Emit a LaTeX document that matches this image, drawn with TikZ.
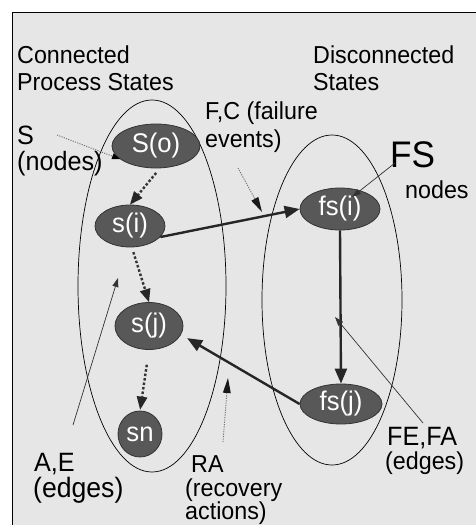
\documentclass[tikz,border=0pt]{standalone}
\usepackage{fontspec}
\setmainfont{Liberation Sans}[FakeStretch=0.95]
\usetikzlibrary{shapes.geometric,arrows.meta}
\definecolor{panel}{HTML}{E6E6E6}
\definecolor{statefill}{HTML}{585858}
\definecolor{stateline}{HTML}{333333}
\tikzset{
  lbl/.style={anchor=base west,inner sep=0pt,font=\fontsize{24.5}{28}\selectfont},
  lblbig/.style={lbl,font=\fontsize{26.5}{30}\selectfont},
  lblhuge/.style={lbl,font=\fontsize{28}{32}\selectfont},
  bigl/.style={anchor=base west,inner sep=0pt,font=\fontsize{37}{42}\selectfont},
  state/.style={ellipse,draw=stateline,line width=0.8pt,fill=statefill,text=white,inner sep=0pt,font=\fontsize{27}{30}\selectfont},
  group/.style={ellipse,draw=black,line width=0.7pt,inner sep=0pt},
  dotarrow/.style={draw=stateline,line width=2.4pt,dash pattern=on 2.5pt off 2pt,-{Triangle[length=13pt,width=11pt,color=black!85,fill=black!85,line width=0pt]}},
  thickarrow/.style={draw=black!85,line width=2.4pt,-{Triangle[length=15pt,width=12pt]}},
  thinarrow/.style={draw=black!80,line width=0.7pt,-{Triangle[length=9pt,width=6pt]}},
  hintarrow/.style={draw=black!55,line width=0.9pt,dash pattern=on 1.2pt off 1.2pt,-{Triangle[length=15pt,width=8pt,color=black!90,fill=black!90,line width=0pt]}},
}
\begin{document}
\begin{tikzpicture}[x=1pt,y=-1pt]
\useasboundingbox (0,0) rectangle (476,525);
% panel
\fill[panel] (12,12) rectangle (476,525);
\draw[line width=1pt] (12,525) -- (12,12) -- (476,12);

% state groups
\node[group,minimum width=148pt,minimum height=372pt] (conn) at (152,286) {};
\node[group,minimum width=140pt,minimum height=330pt] (disc) at (332,300) {};

% states
\node[state,minimum width=88pt,minimum height=44pt] (So) at (156,146) {S(o)};
\node[state,minimum width=70pt,minimum height=42pt] (si) at (130,226) {s(i)};
\node[state,minimum width=68pt,minimum height=47pt] (sj) at (149,326) {s(j)};
\node[state,minimum width=44pt,minimum height=46pt] (sn) at (140,434) {sn};
\node[state,minimum width=80pt,minimum height=42pt] (fsi) at (340,209) {fs(i)};
\node[state,minimum width=82pt,minimum height=40pt] (fsj) at (341,404) {fs(j)};

% labels
\node[lbl] (lconn1) at (17,63) {Connected};
\node[lbl] (lconn2) at (17,90) {Process States};
\node[lbl] (ldisc1) at (313,63) {Disconnected};
\node[lbl] (ldisc2) at (313,90) {States};
\node[lblbig] (lS1) at (17,144) {S};
\node[lblbig] (lS2) at (17,170) {(nodes)};
\node[lbl] (lFC1) at (205,119) {F,C (failure};
\node[lbl] (lFC2) at (205,147) {events)};
\node[bigl] (lFS) at (390,167) {FS};
\node[lbl] (lFSn) at (405,198) {nodes};
\node[lblbig] (lAE1) at (34,471) {A,E};
\node[lblhuge] (lAE2) at (33,497) {(edges)};
\node[lbl] (lRA1) at (191,472) {RA};
\node[lbl] (lRA2) at (185,496) {(recovery};
\node[lbl] (lRA3) at (185,519) {actions)};
\node[lblbig] (lFE1) at (387,445) {FE,FA};
\node[lbl] (lFE2) at (385,469) {(edges)};

% free ends of the pointer arrows
\coordinate (pS) at (57,135);
\coordinate (pFCa) at (238,168);
\coordinate (pFCb) at (262,212);
\coordinate (pFSa) at (395,163);
\coordinate (pFSb) at (352,197);
\coordinate (pAEa) at (73,425);
\coordinate (pAEb) at (118,278);
\coordinate (pRAa) at (223,442);
\coordinate (pRAb) at (228,378);
\coordinate (pFEa) at (423,423);
\coordinate (pFEb) at (335,317);

% transitions among connected states
\draw[dotarrow,shorten <=6pt] (So.-80) -- (si.north);
\draw[dotarrow,shorten <=5pt] (si.-85) -- (sj.north);
\draw[dotarrow,shorten <=15pt,shorten >=1pt] (sj.south) -- (sn.north);

% failure and recovery transitions
\draw[thickarrow] (si.-20) -- (fsi.west);
\draw[thickarrow] (fsi.south) -- (fsj.north);
\draw[thickarrow,shorten >=7pt] (fsj.west) -- (sj.-15);

% pointer arrows
\draw[hintarrow,-{Triangle[length=8pt,width=6pt,color=black,fill=black,line width=0pt]}] (pS) -- (So.200);
\draw[hintarrow] (pFCa) -- (pFCb);
\draw[thinarrow] (pFSa) -- (pFSb);
\draw[thinarrow] (pAEa) -- (pAEb);
\draw[hintarrow] (pRAa) -- (pRAb);
\draw[thinarrow] (pFEa) -- (pFEb);
\end{tikzpicture}
\end{document}
